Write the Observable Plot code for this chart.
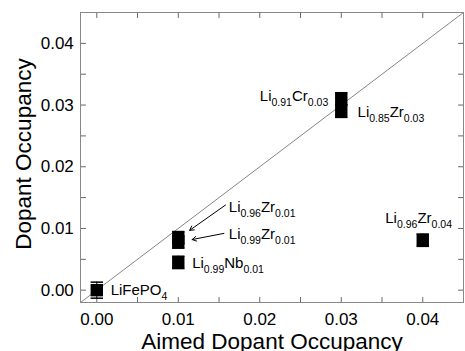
<!DOCTYPE html>
<html><head><meta charset="utf-8">
<script src="https://cdn.jsdelivr.net/npm/d3@7"></script>
<script src="https://cdn.jsdelivr.net/npm/@observablehq/plot@0.6"></script>
<style>body{margin:0;background:#fff;}</style>
</head><body><div id="chart"></div>
<script>
// ---- data ----
const names = ["LiFePO4", "Li0.96Zr0.01", "Li0.99Zr0.01", "Li0.99Nb0.01", "Li0.91Cr0.03", "Li0.85Zr0.03", "Li0.96Zr0.04"];
const aimed = [0, 0.01, 0.01, 0.01, 0.03, 0.03, 0.04];
const measured = [0, 0.0085, 0.0078, 0.0045, 0.031, 0.029, 0.0081];
const errors = [0.0013, 0.001, 0.001, 0.001, 0.001, 0.001, 0.001];

const labelText = ["LiFePO_{4}", "Li_{0.96}Zr_{0.01}", "Li_{0.99}Zr_{0.01}", "Li_{0.99}Nb_{0.01}", "Li_{0.91}Cr_{0.03}", "Li_{0.85}Zr_{0.03}", "Li_{0.96}Zr_{0.04}"];
const labelX = [0.0017, 0.0162, 0.0162, 0.0117, 0.0284, 0.0320, 0.0354];
const labelY = [0.0000, 0.0134, 0.0091, 0.0043, 0.0315, 0.0288, 0.0117];
const labelAnchor = ["start", "start", "start", "start", "end", "start", "start"];

const arrowX1 = [0.0158, 0.0156];
const arrowY1 = [0.0138, 0.0092];
const arrowX2 = [0.0114, 0.0117];
const arrowY2 = [0.0097, 0.0082];

const majorTicks = [0, 0.01, 0.02, 0.03, 0.04];
const allTicks = [0, 0.005, 0.01, 0.015, 0.02, 0.025, 0.03, 0.035, 0.04];
const xDomain = [-0.002, 0.045];
const yDomain = [-0.002, 0.045];
const diagonal = [-0.002, 0.045];
const xTitle = "Aimed Dopant Occupancy";
const yTitle = "Dopant Occupancy";

// ---- build ----
const points = names.map((n, i) => ({name: n, x: aimed[i], y: measured[i], err: errors[i]}));
const labels = labelText.map((t, i) => ({t, x: labelX[i], y: labelY[i], a: labelAnchor[i]}));
const arrows = arrowX1.map((_, i) => ({x1: arrowX1[i], y1: arrowY1[i], x2: arrowX2[i], y2: arrowY2[i]}));
const capSymbol = {draw(ctx, size) { const w = Math.sqrt(size) / 2; ctx.moveTo(-w, 0); ctx.lineTo(w, 0); }};
const tickShape = {draw(ctx, l) { ctx.moveTo(0, 0); ctx.lineTo(0, -l); }};
const tickBase = {length: 5, anchor: "start", shape: tickShape, stroke: "#666", strokeWidth: 1};
const fmt = d3.format(".2f");

const plot = Plot.plot({
  width: 465, height: 351,
  marginLeft: 80, marginRight: 2, marginTop: 12, marginBottom: 49,
  style: {fontFamily: "'Liberation Sans', Arial, sans-serif", color: "black", background: "white"},
  x: {domain: xDomain, axis: null},
  y: {domain: yDomain, axis: null},
  marks: [
    Plot.line(diagonal, {x: d => d, y: d => d, stroke: "#666", strokeWidth: 0.8}),
    // inward ticks on all four sides
    Plot.vector(allTicks, {x: d => d, frameAnchor: "bottom", rotate: 0, ...tickBase}),
    Plot.vector(allTicks, {x: d => d, frameAnchor: "top", rotate: 180, ...tickBase}),
    Plot.vector(allTicks, {y: d => d, frameAnchor: "left", rotate: 90, ...tickBase}),
    Plot.vector(allTicks, {y: d => d, frameAnchor: "right", rotate: -90, ...tickBase}),
    Plot.axisX(majorTicks, {anchor: "bottom", tickSize: 0, tickPadding: 10.5, tickFormat: fmt, fontSize: 17, label: null}),
    Plot.axisY(majorTicks, {anchor: "left", tickSize: 0, tickPadding: 6.7, tickFormat: fmt, fontSize: 17, label: null}),
    Plot.frame({stroke: "#888"}),
    Plot.ruleX(points, {x: "x", y1: d => d.y - d.err, y2: d => d.y + d.err, stroke: "black"}),
    Plot.dot(points, {x: "x", y: d => d.y + d.err, symbol: capSymbol, r: 7, stroke: "black", fill: "none"}),
    Plot.dot(points, {x: "x", y: d => d.y - d.err, symbol: capSymbol, r: 7, stroke: "black", fill: "none"}),
    Plot.dot(points, {x: "x", y: "y", symbol: "square", r: 7, fill: "black", stroke: "none"}),
    Plot.arrow(arrows, {x1: "x1", y1: "y1", x2: "x2", y2: "y2", stroke: "black", strokeWidth: 1, headLength: 7}),
    Plot.text(labels.filter(d => d.a === "start"), {x: "x", y: "y", text: "t", textAnchor: "start", fontSize: 15, fill: "black"}),
    Plot.text(labels.filter(d => d.a === "end"), {x: "x", y: "y", text: "t", textAnchor: "end", fontSize: 15, fill: "black"}),
    Plot.text([xTitle], {text: d => d, frameAnchor: "bottom", textAnchor: "middle", lineAnchor: "middle", dy: 39.7, fontSize: 22.5, fill: "black"}),
    Plot.text([yTitle], {text: d => d, frameAnchor: "left", textAnchor: "middle", lineAnchor: "middle", rotate: -90, dx: -56.6, dy: -3.5, fontSize: 22.5, fill: "black"})
  ]
});

// subscripts: turn "_{...}" into lowered smaller tspans
const NS = "http://www.w3.org/2000/svg";
plot.querySelectorAll("text").forEach(t => {
  const s = t.textContent;
  if (!s.includes("_{")) return;
  while (t.firstChild) t.removeChild(t.firstChild);
  const parts = s.split(/(_\{[^}]*\})/).filter(p => p);
  let sub = false;
  for (const p of parts) {
    const ts = document.createElementNS(NS, "tspan");
    if (p.startsWith("_{")) {
      ts.textContent = p.slice(2, -1);
      ts.setAttribute("font-size", "10.5");
      if (!sub) ts.setAttribute("dy", "5");
      sub = true;
    } else {
      ts.textContent = p;
      if (sub) ts.setAttribute("dy", "-5");
      sub = false;
    }
    t.appendChild(ts);
  }
});
document.getElementById("chart").appendChild(plot);
</script>
</body></html>
